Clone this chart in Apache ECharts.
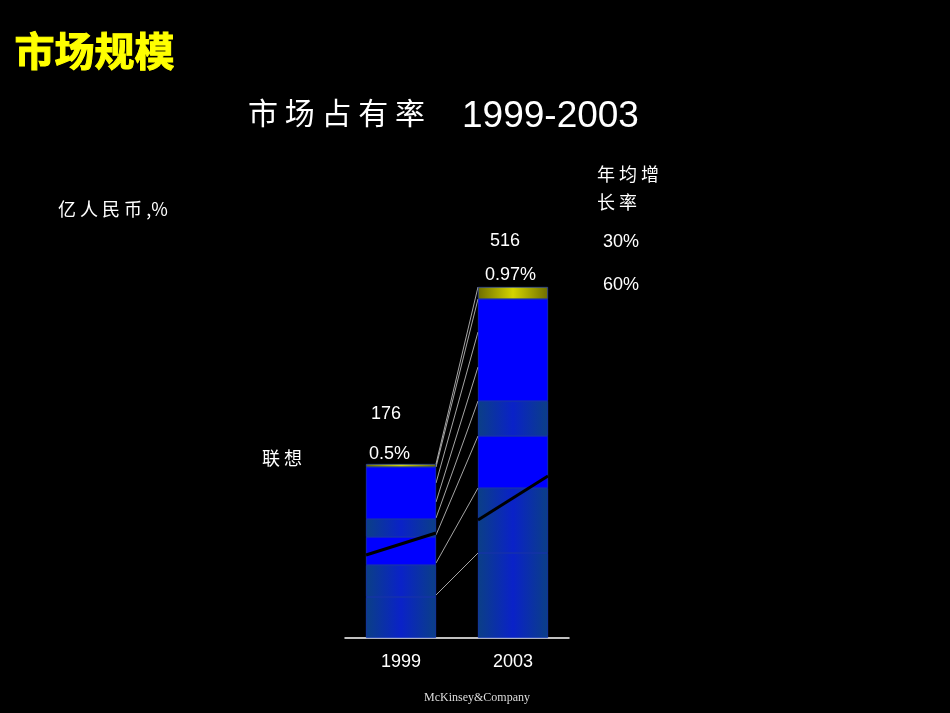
<!DOCTYPE html>
<html><head><meta charset="utf-8">
<script src="https://cdn.jsdelivr.net/npm/echarts@6/dist/echarts.min.js"></script>
<style>html,body{margin:0;background:#000}#c{width:950px;height:713px}</style>
</head><body><div id="c"></div>
<script>
var years = ['1999', '2003'];
// stacked segments, bottom to top (chart units)
var seg1 = [41, 85];   // dark
var seg2 = [32, 65];   // dark
var seg3 = [28, 52];   // blue
var seg4 = [18, 35];   // dark
var seg5 = [52, 102];  // blue
var seg6 = [3, 12];    // 联想 (yellow)
var totals = ['176', '516'];
var shares = ['0.5%', '0.97%'];
var growth = ['30%', '60%'];
// connector levels: left bar edge -> right bar edge
var linkLeft = [43, 75, 103, 120, 136, 155, 171, 174];
var linkRight = [85, 150, 202, 237, 271, 306, 339, 351];
// black trend line inside bars
var trend1999 = [83, 105];
var trend2003 = [118, 162];

var dark = {type: 'linear', x: 0, y: 0, x2: 1, y2: 0, colorStops: [
    {offset: 0, color: '#0b3f86'}, {offset: 0.5, color: '#0a22c8'}, {offset: 1, color: '#0b3f86'}]};
var blue = '#0000ff';
var gold = {type: 'linear', x: 0, y: 0, x2: 1, y2: 0, colorStops: [
    {offset: 0, color: '#6e6e00'}, {offset: 0.5, color: '#d4d400'}, {offset: 1, color: '#6e6e00'}]};

function barSeries(data, color){
    return {type: 'bar', stack: 's', data: data, barWidth: 70, xAxisIndex: 0,
        itemStyle: {color: color, borderColor: '#1f3fd0', borderWidth: 0.6}, z: 2};
}

var series = [barSeries(seg1, dark), barSeries(seg2, dark), barSeries(seg3, blue),
    barSeries(seg4, dark), barSeries(seg5, blue), barSeries(seg6, gold)];

for (var i = 0; i < linkLeft.length; i++) {
    series.push({type: 'line', xAxisIndex: 1, symbol: 'none', silent: true,
        lineStyle: {color: '#cfcfcf', width: 0.8},
        data: [[1.625, linkLeft[i]], [2.375, linkRight[i]]], z: 1});
}
series.push({type: 'line', xAxisIndex: 1, symbol: 'none', lineStyle: {color: '#000', width: 3},
    data: [[0.375, trend1999[0]], [1.625, trend1999[1]]], z: 5});
series.push({type: 'line', xAxisIndex: 1, symbol: 'none', lineStyle: {color: '#000', width: 3},
    data: [[2.375, trend2003[0]], [3.625, trend2003[1]]], z: 5});

var txt = function(x, y, s, size, extra){
    var st = {text: s, fill: '#fff', font: (size || 18) + 'px "Liberation Sans", "Noto Sans CJK SC"'};
    for (var k in extra) st[k] = extra[k];
    return {type: 'text', left: x, top: y, style: st};
};

var chart = echarts.init(document.getElementById('c'));
chart.setOption({
    backgroundColor: '#000',
    animation: false,
    grid: {left: 345, width: 224, bottom: 75, height: 352},
    xAxis: [
        {type: 'category', data: years, axisTick: {show: false},
         axisLine: {lineStyle: {color: '#fff', width: 1.5}},
         axisLabel: {color: '#fff', fontSize: 18, margin: 15, fontFamily: 'Liberation Sans'}},
        {type: 'value', min: 0, max: 4, show: false}
    ],
    yAxis: {type: 'value', min: 0, max: 352, show: false},
    series: series,
    graphic: [
        txt(14, 30, '市场规模', 40, {fill: '#ffff00', font: 'bold 40px "Noto Sans CJK SC"', stroke: '#ffff00', lineWidth: 1}),
        txt(248, 98, '市 场 占 有 率', 30, {font: '30px "Noto Sans CJK SC"'}),
        txt(462, 98, '1999-2003', 37),
        txt(58, 200, '亿 人 民 币 ,%', 18, {font: '18px "Noto Sans CJK SC"'}),
        txt(597, 160, '年 均 增\n长 率', 18, {font: '18px "Noto Sans CJK SC"', lineHeight: 28}),
        txt(603, 233, growth[0], 18),
        txt(603, 276, growth[1], 18),
        txt(490, 232, totals[1], 18),
        txt(485, 266, shares[1], 18),
        txt(371, 405, totals[0], 18),
        txt(369, 445, shares[0], 18),
        txt(262, 449, '联 想', 18, {font: '18px "Noto Sans CJK SC"'}),
        txt(424, 692, 'McKinsey&Company', 12, {font: '12px "Liberation Serif"', fill: '#ddd'})
    ]
});
</script></body></html>
